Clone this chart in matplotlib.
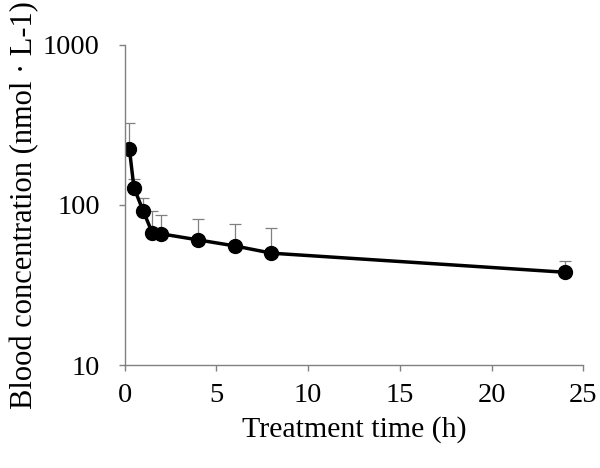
import matplotlib
matplotlib.use("Agg")
import matplotlib.pyplot as plt
from matplotlib.ticker import FixedLocator, NullLocator

plt.rcParams['font.family'] = ['Liberation Serif', 'DejaVu Serif']

# time points (h) and blood concentration (nmol/L), mean and upper SD
time_h = [0.25, 0.5, 1, 1.5, 2, 4, 6, 8, 24]
conc = [224, 128, 92, 67, 66, 60.5, 55.5, 50, 38]
conc_sd = [103, 17, 19, 25, 21, 21, 21, 22, 6.5]

fig = plt.figure(figsize=(6, 4.68), dpi=100)
ax = fig.add_axes([0.208, 0.22, 0.764, 0.684])

ax.errorbar(time_h, conc, yerr=[[0] * len(conc_sd), conc_sd], fmt='none',
            ecolor='#808080', elinewidth=0.9, capsize=4, capthick=0.9, zorder=1)
ax.plot(time_h, conc, color='black', lw=2.5, marker='o', markersize=10, zorder=2)

ax.set_yscale('log')
ax.set_ylim(10, 1000)
ax.set_xlim(0, 25)
ax.yaxis.set_major_locator(FixedLocator([10, 100, 1000]))
ax.yaxis.set_minor_locator(NullLocator())
ax.set_yticklabels(['10', '100', '1000'])
ax.set_xticks([0, 5, 10, 15, 20, 25])

for side in ['top', 'right']:
    ax.spines[side].set_visible(False)
for side in ['left', 'bottom']:
    ax.spines[side].set_color('#808080')
    ax.spines[side].set_linewidth(1.0)
ax.tick_params(axis='both', colors='#808080', labelcolor='black', labelsize=20.5,
               length=4, width=1.0)
ax.tick_params(axis='x', pad=9)
ax.tick_params(axis='y', pad=14)

ax.set_xlabel('Treatment time (h)', fontsize=21.5, labelpad=6)
ax.set_ylabel('Blood concentration (nmol · L-1)', fontsize=22, labelpad=3)

fig.savefig('out.png', dpi=100)
